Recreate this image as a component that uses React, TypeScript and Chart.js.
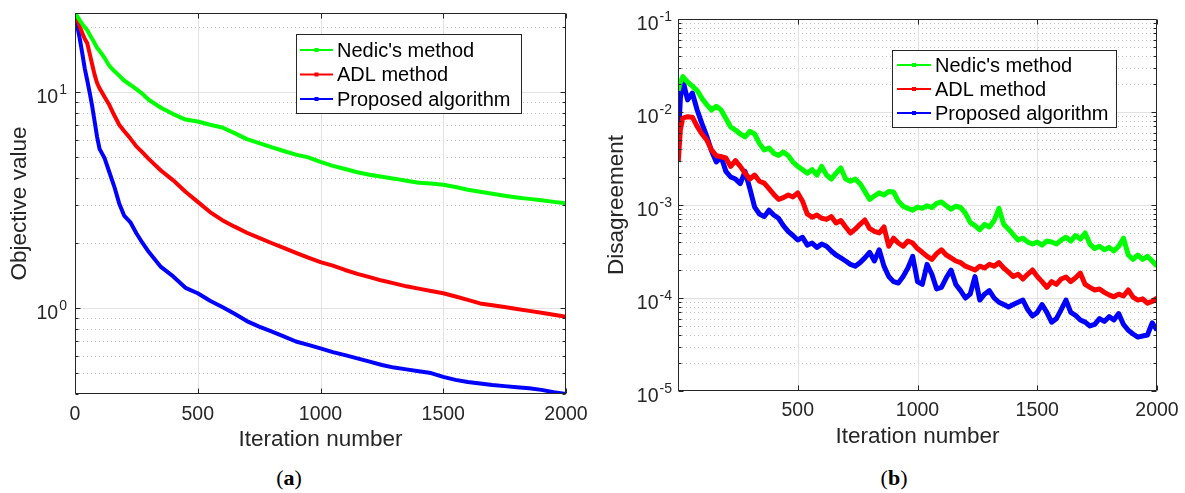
import React, { useEffect, useRef } from 'react';
import { Chart, registerables } from 'chart.js';

Chart.register(...registerables);

// ---------- data ----------
const SERIES_NAMES = ["Nedic's method", 'ADL method', 'Proposed algorithm'];
const SERIES_COLORS = ['#00ff00', '#ff0000', '#0000ff'];
const X_TICKS = [0, 500, 1000, 1500, 2000];

// panel (a): objective value
const ITER_A = [0, 10, 20, 30, 40, 50, 60, 70, 80, 90, 100, 120, 140, 160, 180, 200, 225, 250, 275, 300,
  350, 400, 450, 500, 550, 600, 650, 700, 750, 800, 850, 900, 950, 1000, 1050, 1100, 1150, 1200, 1250, 1300,
  1350, 1400, 1450, 1500, 1550, 1600, 1650, 1700, 1750, 1800, 1850, 1900, 1950, 2000];
const NEDIC_A = [23.2, 22.3, 21.4, 20.6, 19.9, 19.3, 18.4, 17.6, 16.8, 16.0, 15.5, 14.4, 13.2, 12.5, 11.9, 11.3, 10.8, 10.3, 9.8, 9.2,
  8.45, 7.9, 7.45, 7.3, 7.05, 6.85, 6.45, 6.05, 5.8, 5.55, 5.33, 5.13, 4.98, 4.75, 4.55, 4.4, 4.25, 4.14, 4.05, 3.97,
  3.88, 3.8, 3.77, 3.72, 3.63, 3.53, 3.45, 3.38, 3.31, 3.25, 3.2, 3.15, 3.1, 3.05];
const ADL_A = [23.2, 21.5, 20.0, 18.7, 17.6, 16.8, 15.0, 13.4, 12.0, 11.0, 10.4, 9.5, 8.7, 7.8, 7.05, 6.6, 6.1, 5.6, 5.25, 4.9,
  4.33, 3.9, 3.45, 3.1, 2.78, 2.55, 2.38, 2.23, 2.11, 2.0, 1.9, 1.8, 1.71, 1.63, 1.57, 1.5, 1.44, 1.39, 1.34, 1.3,
  1.26, 1.23, 1.2, 1.17, 1.13, 1.09, 1.05, 1.03, 1.01, 0.99, 0.97, 0.95, 0.93, 0.91];
const PROPOSED_A = [23.2, 20.0, 17.5, 15.0, 12.8, 11.3, 9.9, 8.6, 7.3, 6.2, 5.45, 4.95, 4.25, 3.65, 3.05, 2.68, 2.5, 2.22, 2.0, 1.82,
  1.55, 1.4, 1.24, 1.17, 1.08, 1.01, 0.94, 0.87, 0.82, 0.78, 0.74, 0.7, 0.675, 0.65, 0.625, 0.605, 0.585, 0.565, 0.545, 0.53,
  0.52, 0.51, 0.5, 0.48, 0.465, 0.455, 0.447, 0.44, 0.435, 0.43, 0.425, 0.418, 0.408, 0.4];

// panel (b): disagreement
const ITER_B = [1, 10, ...Array.from({ length: 100 }, (_, i) => (i + 1) * 20)];
const NEDIC_B = [0.017, 0.021,
  0.024, 0.021, 0.019, 0.017, 0.014, 0.012, 0.0105, 0.0115, 0.0105, 0.0085,
  0.0069, 0.0064, 0.0058, 0.0054, 0.0062, 0.0058, 0.0046, 0.0039, 0.0041, 0.0036,
  0.0034, 0.0037, 0.0034, 0.0029, 0.0026, 0.0024, 0.0022, 0.0024, 0.0021, 0.0026,
  0.0021, 0.0019, 0.0022, 0.0025, 0.0019, 0.0018, 0.0019, 0.0017, 0.0014, 0.00115,
  0.00125, 0.00135, 0.00128, 0.0014, 0.00138, 0.0011, 0.00097, 0.00092, 0.00088, 0.00095,
  0.00092, 0.00098, 0.00094, 0.00104, 0.00108, 0.00098, 0.0009, 0.00097, 0.00094, 0.00082,
  0.00065, 0.0006, 0.00054, 0.00062, 0.00058, 0.00068, 0.00092, 0.00062, 0.00055, 0.00048,
  0.00042, 0.00044, 0.0004, 0.00038, 0.0004, 0.00037, 0.00041, 0.0004, 0.00038, 0.00042,
  0.00045, 0.00041, 0.00047, 0.00043, 0.0005, 0.00038, 0.00034, 0.00036, 0.00033, 0.00035,
  0.00032, 0.00036, 0.00044, 0.00029, 0.00026, 0.00029, 0.00026, 0.00028, 0.00025, 0.00022];
const ADL_B = [0.0029, 0.0065,
  0.0086, 0.0089, 0.0088, 0.007, 0.0058, 0.005, 0.0039, 0.0034, 0.0033, 0.0032,
  0.0026, 0.003, 0.0026, 0.0022, 0.0019, 0.0021, 0.0018, 0.00172, 0.0015, 0.0013,
  0.00115, 0.0012, 0.00128, 0.00122, 0.00135, 0.0011, 0.0008, 0.00074, 0.00078, 0.00072,
  0.0007, 0.00075, 0.00064, 0.00068, 0.00058, 0.0005, 0.00055, 0.00062, 0.00069, 0.00056,
  0.00052, 0.0005, 0.00058, 0.00036, 0.00044, 0.00039, 0.00036, 0.00041, 0.00039, 0.00034,
  0.00031, 0.00028, 0.00026, 0.0003, 0.00033, 0.00029, 0.00027, 0.00025, 0.00024, 0.00022,
  0.00021, 0.0002, 0.00022, 0.00021, 0.00023, 0.00022, 0.00024, 0.00021, 0.00019, 0.00017,
  0.00018, 0.00016, 0.00018, 0.0002, 0.00017, 0.00015, 0.00013, 0.00015, 0.00014, 0.00016,
  0.000168, 0.00015, 0.000165, 0.000185, 0.00014, 0.00013, 0.000122, 0.000125, 0.000115, 0.000108,
  0.000103, 0.00011, 0.000105, 0.000122, 0.000102, 0.000095, 0.000098, 0.000088, 0.000092, 0.0001];
const PROPOSED_B = [0.005, 0.014,
  0.022, 0.0135, 0.016, 0.0105, 0.0075, 0.0055, 0.0038, 0.0029, 0.0033, 0.0023,
  0.002, 0.0019, 0.0017, 0.0023, 0.0015, 0.00095, 0.0008, 0.00075, 0.00088, 0.00078,
  0.00072, 0.0006, 0.00052, 0.00047, 0.00042, 0.00045, 0.00037, 0.00039, 0.00035, 0.00038,
  0.00036, 0.00032, 0.00029, 0.00027, 0.00025, 0.00023, 0.00022, 0.00024, 0.00027, 0.00031,
  0.00025, 0.00033, 0.00022, 0.00017, 0.00015, 0.000145, 0.00017, 0.00021, 0.00028, 0.00015,
  0.00014, 0.00023, 0.00018, 0.000125, 0.00013, 0.000165, 0.0002, 0.00014, 0.00012, 0.0001,
  0.00011, 0.00017, 0.000095, 0.00011, 0.00012, 0.0001, 0.00009, 0.000085, 0.00008, 0.000085,
  0.00009, 0.000095, 0.000075, 0.000064, 0.00007, 0.000085, 0.00007, 0.000055, 0.00006, 0.000075,
  0.000095, 0.00007, 0.000065, 0.000058, 0.000055, 0.00005, 0.000052, 0.00006, 0.000056, 0.000063,
  0.000058, 0.000068, 0.000052, 0.000045, 0.000041, 0.000038, 0.000039, 0.00004, 0.000054, 0.000045];

// ---------- helpers ----------
const FONT = "'Liberation Sans', Arial, Helvetica, sans-serif";
const AXIS_COLOR = '#262626';
const TICK_SIZE = 19.5;
const SUP_SIZE = 14;

function decadeExponent(v: number): number | null {
  const e = Math.log10(v);
  const r = Math.round(e);
  return Math.abs(e - r) > 1e-6 ? null : r;
}

const matlabAxes = {
  id: 'matlabAxes',
  beforeDatasetsDraw(chart: any) {
    const { ctx, chartArea: a, scales } = chart;
    const xs = scales.x;
    const ys = scales.y;
    ctx.save();
    ctx.lineWidth = 1;
    const yMin = ys.min;
    const yMax = ys.max;
    const e0 = Math.floor(Math.log10(yMin));
    const e1 = Math.ceil(Math.log10(yMax));
    for (let e = e0; e <= e1; e++) {
      for (let m = 1; m <= 9; m++) {
        const v = m * Math.pow(10, e);
        if (v < yMin * 0.9999 || v > yMax * 1.0001) continue;
        const py = Math.round(ys.getPixelForValue(v)) + 0.5;
        if (py <= a.top + 1 || py >= a.bottom - 1) continue;
        ctx.beginPath();
        if (m === 1) {
          ctx.setLineDash([]);
          ctx.strokeStyle = '#e2e2e2';
        } else {
          ctx.setLineDash([1, 3]);
          ctx.strokeStyle = '#c2c2c2';
        }
        ctx.moveTo(a.left, py);
        ctx.lineTo(a.right, py);
        ctx.stroke();
      }
    }
    ctx.setLineDash([]);
    ctx.strokeStyle = '#e2e2e2';
    for (const t of X_TICKS) {
      const px = Math.round(xs.getPixelForValue(t)) + 0.5;
      if (px <= a.left + 1 || px >= a.right - 1) continue;
      ctx.beginPath();
      ctx.moveTo(px, a.top);
      ctx.lineTo(px, a.bottom);
      ctx.stroke();
    }
    ctx.restore();
  },
  afterDatasetsDraw(chart: any, _args: any, opts: any) {
    const { ctx, chartArea: a, scales } = chart;
    const xs = scales.x;
    const ys = scales.y;
    ctx.save();
    ctx.setLineDash([]);
    ctx.strokeStyle = AXIS_COLOR;
    ctx.lineWidth = 1;
    const L = Math.round(a.left) + 0.5;
    const R = Math.round(a.right) - 0.5;
    const T = Math.round(a.top) + 0.5;
    const B = Math.round(a.bottom) - 0.5;
    ctx.beginPath();
    ctx.rect(L, T, R - L, B - T);
    ctx.stroke();
    // y ticks (major and minor)
    const yMin = ys.min;
    const yMax = ys.max;
    const e0 = Math.floor(Math.log10(yMin));
    const e1 = Math.ceil(Math.log10(yMax));
    ctx.beginPath();
    for (let e = e0; e <= e1; e++) {
      for (let m = 1; m <= 9; m++) {
        const v = m * Math.pow(10, e);
        if (v < yMin * 0.9999 || v > yMax * 1.0001) continue;
        const py = Math.round(ys.getPixelForValue(v)) + 0.5;
        const len = m === 1 ? 5 : 3;
        ctx.moveTo(L, py);
        ctx.lineTo(L + len, py);
        ctx.moveTo(R, py);
        ctx.lineTo(R - len, py);
      }
    }
    for (const t of X_TICKS) {
      const px = Math.round(xs.getPixelForValue(t)) + 0.5;
      ctx.moveTo(px, B);
      ctx.lineTo(px, B - 5);
      ctx.moveTo(px, T);
      ctx.lineTo(px, T + 5);
    }
    ctx.stroke();

    // y tick labels: "10" with a raised exponent
    ctx.fillStyle = AXIS_COLOR;
    ctx.textBaseline = 'alphabetic';
    ctx.textAlign = 'left';
    const labelRight = a.left - opts.yLabelGap;
    for (const tk of ys.ticks) {
      const ex = decadeExponent(tk.value);
      if (ex === null) continue;
      const py = ys.getPixelForValue(tk.value);
      const expStr = String(ex).replace('-', '\u2212'.length ? '-' : '-');
      ctx.font = `${SUP_SIZE}px ${FONT}`;
      const wExp = ctx.measureText(expStr).width;
      ctx.font = `${TICK_SIZE}px ${FONT}`;
      const wBase = ctx.measureText('10').width;
      const x0 = labelRight - wExp - wBase - 1;
      ctx.fillText('10', x0, py + 11);
      ctx.font = `${SUP_SIZE}px ${FONT}`;
      ctx.fillText(expStr, x0 + wBase + 1, py + 2);
    }

    // legend box
    const lg = opts.legend;
    if (lg) {
      ctx.fillStyle = '#ffffff';
      ctx.fillRect(lg.left, lg.top, lg.width, lg.height);
      ctx.strokeStyle = AXIS_COLOR;
      ctx.lineWidth = 1;
      ctx.strokeRect(lg.left + 0.5, lg.top + 0.5, lg.width - 1, lg.height - 1);
      ctx.font = `${lg.fontSize}px ${FONT}`;
      ctx.textBaseline = 'middle';
      ctx.textAlign = 'left';
      chart.data.datasets.forEach((ds: any, i: number) => {
        const cy = lg.top + lg.rowStart + i * lg.rowGap;
        ctx.strokeStyle = ds.borderColor;
        ctx.lineWidth = 2;
        ctx.beginPath();
        ctx.moveTo(lg.left + lg.lineX0, cy);
        ctx.lineTo(lg.left + lg.lineX1, cy);
        ctx.stroke();
        ctx.fillStyle = ds.borderColor;
        const mx = lg.left + (lg.lineX0 + lg.lineX1) / 2;
        ctx.fillRect(mx - 2, cy - 2, 4, 4);
        ctx.fillStyle = '#000000';
        ctx.fillText(ds.label, lg.left + lg.textX, cy + 1);
      });
    }
    ctx.restore();
  },
};

type PanelSpec = {
  iters: number[];
  series: number[][];
  yMin: number;
  yMax: number;
  yTitle: string;
  yAxisWidth: number;
  yTitlePad: number;
  yLabelGap: number;
  xTickPad: number;
  hideZeroLabel: boolean;
  padTop: number;
  padRight: number;
  lineWidth: number;
  legend: any;
};

function makeConfig(p: PanelSpec): any {
  const tickFont = { family: FONT, size: TICK_SIZE };
  const titleFont = { family: FONT, size: 22.5 };
  return {
    type: 'line',
    data: {
      datasets: p.series.map((vals, i) => ({
        label: SERIES_NAMES[i],
        data: p.iters.map((x, j) => ({ x, y: vals[j] })),
        borderColor: SERIES_COLORS[i],
        backgroundColor: SERIES_COLORS[i],
        borderWidth: p.lineWidth,
        pointRadius: 0,
        tension: 0,
        fill: false,
        borderJoinStyle: 'round',
      })),
    },
    options: {
      animation: false,
      responsive: false,
      devicePixelRatio: 1,
      events: [],
      layout: { padding: { top: p.padTop, right: p.padRight, left: 0, bottom: 0 } },
      plugins: {
        legend: { display: false },
        tooltip: { enabled: false },
        matlabAxes: { legend: p.legend, yLabelGap: p.yLabelGap },
      },
      scales: {
        x: {
          type: 'linear',
          min: 0,
          max: 2000,
          afterBuildTicks: (s: any) => {
            s.ticks = X_TICKS.map((v) => ({ value: v }));
          },
          grid: { display: false, drawTicks: false },
          border: { display: false },
          ticks: {
            font: tickFont,
            color: AXIS_COLOR,
            padding: p.xTickPad,
            maxRotation: 0,
            autoSkip: false,
            callback: (v: any) => (p.hideZeroLabel && Number(v) === 0 ? '' : String(v)),
          },
          title: {
            display: true,
            text: 'Iteration number',
            font: titleFont,
            color: AXIS_COLOR,
            padding: { top: 0, bottom: 1 },
          },
          afterFit: (s: any) => {
            s.height = 60;
            s.paddingLeft = 0;
            s.paddingRight = 0;
          },
        },
        y: {
          type: 'logarithmic',
          min: p.yMin,
          max: p.yMax,
          grid: { display: false, drawTicks: false },
          border: { display: false },
          ticks: {
            font: tickFont,
            color: AXIS_COLOR,
            autoSkip: false,
            // labels are drawn by the matlabAxes plugin as 10 with a raised exponent
            callback: () => '',
          },
          title: {
            display: true,
            text: p.yTitle,
            font: titleFont,
            color: AXIS_COLOR,
            padding: { top: p.yTitlePad, bottom: 0 },
          },
          afterFit: (s: any) => {
            s.width = p.yAxisWidth;
            s.paddingTop = 0;
            s.paddingBottom = 0;
          },
        },
      },
    },
    plugins: [matlabAxes],
  };
}

const PANEL_A: PanelSpec = {
  iters: ITER_A,
  series: [NEDIC_A, ADL_A, PROPOSED_A],
  yMin: 0.4,
  yMax: 23.2,
  yTitle: 'Objective value',
  yAxisWidth: 75,
  yTitlePad: 6,
  yLabelGap: 8,
  xTickPad: 9,
  hideZeroLabel: false,
  padTop: 13,
  padRight: 24,
  lineWidth: 4,
  legend: { left: 296, top: 34, width: 226, height: 80, rowStart: 16, rowGap: 24.5, lineX0: 4, lineX1: 37, textX: 41, fontSize: 20 },
};

const PANEL_B: PanelSpec = {
  iters: ITER_B,
  series: [NEDIC_B, ADL_B, PROPOSED_B],
  yMin: 1e-5,
  yMax: 1e-1,
  yTitle: 'Disagreement',
  yAxisWidth: 88,
  yTitlePad: 13,
  yLabelGap: 6,
  xTickPad: 8,
  hideZeroLabel: true,
  padTop: 19,
  padRight: 28,
  lineWidth: 5,
  legend: { left: 302, top: 50, width: 225, height: 78, rowStart: 15, rowGap: 24, lineX0: 5, lineX1: 39, textX: 43, fontSize: 20 },
};

function Panel({ spec, left, width, height }: { spec: PanelSpec; left: number; width: number; height: number }) {
  const ref = useRef<HTMLCanvasElement | null>(null);
  useEffect(() => {
    if (!ref.current) return;
    const chart = new Chart(ref.current, makeConfig(spec));
    return () => chart.destroy();
  }, [spec]);
  return (
    <canvas
      ref={ref}
      width={width}
      height={height}
      style={{ position: 'absolute', left, top: 0, width, height }}
    />
  );
}

const captionStyle: React.CSSProperties = {
  position: 'absolute',
  top: 464,
  width: 80,
  textAlign: 'center',
  fontFamily: "'Liberation Serif', 'DejaVu Serif', serif",
  fontSize: 22,
  lineHeight: '28px',
  color: '#000',
};

export default function App() {
  return (
    <div style={{ position: 'fixed', left: 0, top: 0, width: 1185, height: 493, background: '#ffffff', overflow: 'hidden' }}>
      <Panel spec={PANEL_A} left={0} width={590} height={454} />
      <Panel spec={PANEL_B} left={590} width={595} height={451} />
      <div style={{ ...captionStyle, left: 249 }}>
        (<b>a</b>)
      </div>
      <div style={{ ...captionStyle, left: 854 }}>
        (<b>b</b>)
      </div>
    </div>
  );
}
